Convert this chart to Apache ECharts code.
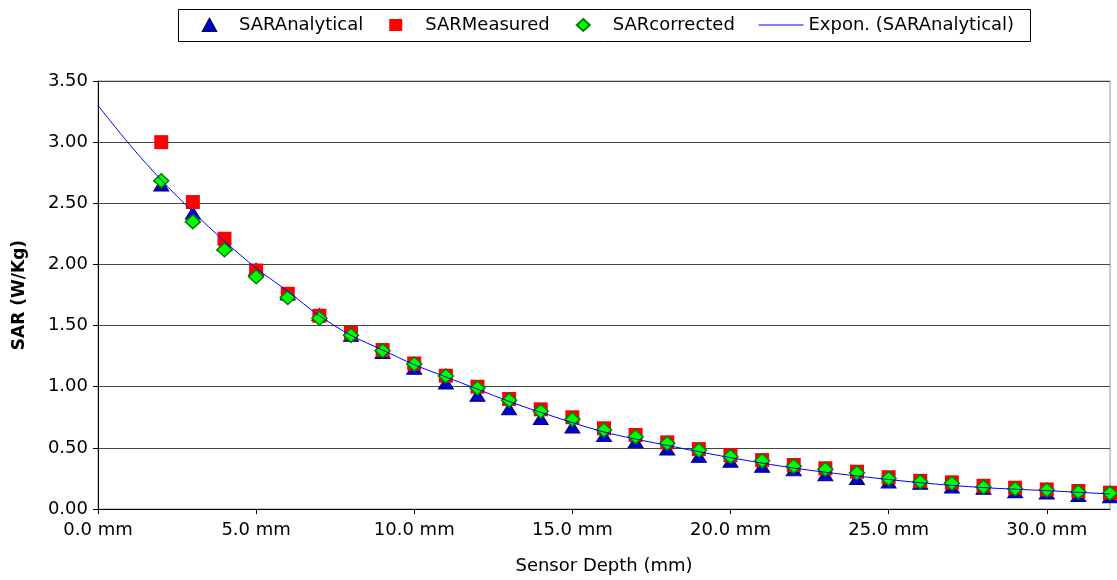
<!DOCTYPE html>
<html>
<head>
<meta charset="utf-8">
<script src="https://cdn.jsdelivr.net/npm/echarts@6/dist/echarts.min.js"></script>
<style>
html,body{margin:0;padding:0;background:#fff;}
#chart{width:1117px;height:580px;}
</style>
</head>
<body>
<div id="chart"></div>
<script>
// Sensor depth (mm)
const depths = [2,3,4,5,6,7,8,9,10,11,12,13,14,15,16,17,18,19,20,21,22,23,24,25,26,27,28,29,30,31,32];
const sarAnalytical = [2.65,2.42,2.16,1.96,1.76,1.59,1.42,1.28,1.15,1.03,0.93,0.82,0.74,0.67,0.60,0.55,0.49,0.43,0.39,0.35,0.32,0.28,0.25,0.22,0.21,0.18,0.17,0.14,0.13,0.11,0.10];
const sarMeasured = [3.00,2.51,2.21,1.95,1.76,1.58,1.44,1.30,1.19,1.09,1.00,0.90,0.815,0.75,0.66,0.605,0.545,0.49,0.44,0.40,0.36,0.333,0.305,0.26,0.23,0.218,0.19,0.174,0.16,0.147,0.133];
const sarCorrected = [2.685,2.35,2.12,1.90,1.73,1.56,1.42,1.295,1.185,1.087,0.99,0.89,0.80,0.733,0.646,0.59,0.537,0.48,0.43,0.395,0.35,0.325,0.297,0.25,0.223,0.21,0.18,0.166,0.155,0.14,0.128];
// Trend line
const trendX = [0,1,2,3,4,5,6,7,8,9,10,11,12,13,14,16,18,20,22,24,26,28,30,32];
const trendY = [3.30,2.98,2.69,2.43,2.19,1.97,1.78,1.58,1.42,1.30,1.18,1.08,0.98,0.88,0.79,0.63,0.52,0.42,0.335,0.27,0.215,0.175,0.15,0.123];

const seriesNames = ['SARAnalytical','SARMeasured','SARcorrected','Expon. (SARAnalytical)'];

function pairs(xs, ys){ return xs.map((x,i)=>[x, ys[i]]); }

const FONT = 'DejaVu Sans';
const chart = echarts.init(document.getElementById('chart'), null, {renderer:'canvas'});
chart.setOption({
  animation:false,
  backgroundColor:'#ffffff',
  textStyle:{fontFamily:FONT, color:'#000'},
  graphic:[{
    type:'rect', z:-10, silent:true,
    shape:{x:178.5, y:9.5, width:852, height:32},
    style:{fill:'#fff', stroke:'#000', lineWidth:1}
  }],
  legend:[{
    data:seriesNames.slice(0,3),
    left:202, top:15, padding:0, orient:'horizontal',
    itemWidth:13, itemHeight:12, itemGap:26,
    selectedMode:false,
    textStyle:{fontFamily:FONT, fontSize:18, color:'#000', lineHeight:20, padding:[0,0,0,18]}
  },{
    data:[seriesNames[3]],
    left:758, top:15, padding:0,
    itemWidth:45, itemHeight:12,
    selectedMode:false,
    itemStyle:{color:'rgba(0,0,0,0)', borderColor:'rgba(0,0,0,0)', borderWidth:0, opacity:0},
    lineStyle:{color:'#0000ff', width:1, opacity:1},
    textStyle:{fontFamily:FONT, fontSize:18, color:'#000', lineHeight:20}
  }],
  grid:{left:98, right:7, top:81, bottom:71, show:true, borderColor:'#999', borderWidth:1, backgroundColor:'transparent'},
  xAxis:{
    type:'value', min:0, max:32, interval:5,
    name:'Sensor Depth (mm)', nameLocation:'middle', nameGap:48,
    nameTextStyle:{fontFamily:FONT, fontSize:18, color:'#000'},
    axisLine:{show:true, lineStyle:{color:'#000', width:1}},
    axisTick:{show:true, inside:false, length:5, lineStyle:{color:'#000'}},
    axisLabel:{fontFamily:FONT, fontSize:18, color:'#000', margin:12, showMaxLabel:false,
      formatter:function(v){return v.toFixed(1)+' mm';}},
    splitLine:{show:false}
  },
  yAxis:{
    type:'value', min:0, max:3.5, interval:0.5,
    name:'SAR (W/Kg)', nameLocation:'middle', nameGap:70,
    nameTextStyle:{fontFamily:FONT, fontSize:17, fontWeight:'bold', color:'#000'},
    axisLine:{show:true, lineStyle:{color:'#000', width:1}},
    axisTick:{show:true, inside:false, length:5, lineStyle:{color:'#000'}},
    axisLabel:{fontFamily:FONT, fontSize:18, color:'#000', margin:10,
      formatter:function(v){return v.toFixed(2);}},
    splitLine:{show:true, lineStyle:{color:'#444', width:1}}
  },
  series:[{
    name:seriesNames[0], type:'scatter', z:3,
    symbol:'triangle', symbolSize:[15,12],
    itemStyle:{color:'#0000cc', borderColor:'#000080', borderWidth:1, opacity:1},
    data:pairs(depths, sarAnalytical)
  },{
    name:seriesNames[1], type:'scatter', z:4,
    symbol:'rect', symbolSize:14,
    itemStyle:{color:'#ff0000', opacity:1},
    data:pairs(depths, sarMeasured)
  },{
    name:seriesNames[2], type:'scatter', z:5,
    symbol:'diamond', symbolSize:[15,14],
    itemStyle:{color:'#00ff00', borderColor:'#008000', borderWidth:1.5, opacity:1},
    data:pairs(depths, sarCorrected)
  },{
    name:seriesNames[3], type:'line', z:6,
    symbol:'none', showSymbol:false, smooth:0.3,
    lineStyle:{color:'#0000ff', width:1},
    itemStyle:{color:'#0000ff'},
    data:pairs(trendX, trendY)
  }]
});
</script>
</body>
</html>
